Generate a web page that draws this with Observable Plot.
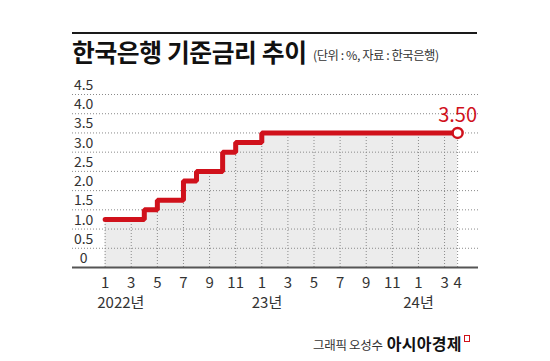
<!DOCTYPE html>
<html>
<head>
<meta charset="utf-8">
<script src="https://cdn.jsdelivr.net/npm/d3@7"></script>
<script src="https://cdn.jsdelivr.net/npm/@observablehq/plot@0.6"></script>
<style>
  html, body { margin: 0; padding: 0; background: #fff; }
  body { width: 550px; height: 361px; position: relative; overflow: hidden; font-family: "Noto Sans CJK KR", "Noto Sans", sans-serif; }
  #topline { position: absolute; left: 72px; top: 32px; width: 405px; height: 2px; background: #1a1a1a; }
  #title { position: absolute; left: 72px; top: 38px; font-size: 24.8px; font-weight: 700; color: #111; line-height: 26px; letter-spacing: -0.4px; white-space: nowrap; }
  #subtitle { position: absolute; left: 313px; top: 47px; font-size: 12.3px; color: #333; line-height: 16px; letter-spacing: -0.45px; white-space: nowrap; }
  #chart { position: absolute; left: 0; top: 75px; }
  #footer { position: absolute; left: 313px; top: 334px; line-height: 18px; white-space: nowrap; color: #333; }
  #footer .by { font-size: 12.5px; letter-spacing: -0.3px; }
  #footer .brand { font-size: 16px; font-weight: 700; color: #111; margin-left: 4px; letter-spacing: 0.3px; }
  #footer .icon { display: inline-block; width: 4px; height: 5px; border: 1.5px solid #d0111b; margin-left: 2px; position: relative; top: -8px; }
</style>
</head>
<body>
<div id="topline"></div>
<div id="title">한국은행 기준금리 추이</div>
<div id="subtitle">(단위 : %, 자료 : 한국은행)</div>
<div id="chart"></div>
<div id="footer"><span class="by">그래픽 오성수</span><span class="brand">아시아경제</span><span class="icon"></span></div>
<script>
// Base rate changes (month of change, rate %)
const changeMonths = ["2022-01", "2022-04", "2022-05", "2022-07", "2022-08", "2022-10", "2022-11", "2023-01", "2024-04"];
const changeRates  = [1.25, 1.50, 1.75, 2.25, 2.50, 3.00, 3.25, 3.50, 3.50];

// X tick months and labels
const tickMonths = ["2022-01","2022-03","2022-05","2022-07","2022-09","2022-11","2023-01","2023-03","2023-05","2023-07","2023-09","2023-11","2024-01","2024-03","2024-04"];
const tickLabels = ["1","3","5","7","9","11","1","3","5","7","9","11","1","3","4"];

// Year labels
const yearMonths = ["2022-01", "2023-01", "2024-01"];
const yearLabels = ["2022년", "23년", "24년"];

// Y ticks
const yTicks = [0, 0.5, 1.0, 1.5, 2.0, 2.5, 3.0, 3.5, 4.0, 4.5];
const yTickLabels = ["0", "0.5", "1.0", "1.5", "2.0", "2.5", "3.0", "3.5", "4.0", "4.5"];

const endLabel = "3.50";

const RED = "#d0111b";
const mi = s => { const [y, m] = s.split("-").map(Number); return (y - 2022) * 12 + (m - 1); };

const series = changeMonths.map((m, i) => ({t: mi(m), rate: changeRates[i]}));
const rateAt = t => { let r = series[0].rate; for (const d of series) if (d.t <= t) r = d.rate; return r; };
const ticks = tickMonths.map((m, i) => ({t: mi(m), label: tickLabels[i], rate: rateAt(mi(m))}));
const yearOffset = {"2022년": 1.2, "23년": 0.4, "24년": 0};
const years = yearMonths.map((m, i) => ({t: mi(m) + yearOffset[yearLabels[i]], label: yearLabels[i]}));
const yt = yTicks.map((v, i) => ({v, label: yTickLabels[i]}));
const last = series[series.length - 1];

const plot = Plot.plot({
  width: 550,
  height: 240,
  marginLeft: 72,
  marginRight: 72,
  marginTop: 19,
  marginBottom: 48,
  x: {domain: [-2.5, 28.6], axis: null},
  y: {domain: [0, 4.5], axis: null},
  style: {fontFamily: '"Noto Sans CJK KR", "Noto Sans", sans-serif', overflow: "visible", background: "transparent"},
  marks: [
    Plot.areaY(series, {x: "t", y: "rate", curve: "step-after", fill: "#ececec"}),
    Plot.ruleX(ticks, {x: "t", y1: 0, y2: "rate", stroke: "#8a8a8a", strokeWidth: 1, strokeDasharray: "1,2"}),
    Plot.ruleY(yTicks.filter(v => v > 0), {stroke: "#8a8a8a", strokeWidth: 1, strokeDasharray: "1,2"}),
    Plot.ruleY([0], {stroke: "#555", strokeWidth: 2}),
    Plot.text(yt, {x: () => -1.65, y: "v", text: "label", dy: -9, fontSize: 14, fill: "#333", textAnchor: "middle"}),
    Plot.line(series, {x: "t", y: "rate", curve: "step-after", stroke: RED, strokeWidth: 5, strokeLinejoin: "miter"}),
    Plot.dot([last], {x: "t", y: "rate", r: 5, fill: "white", stroke: RED, strokeWidth: 2.5}),
    Plot.text([last], {x: "t", y: "rate", text: () => endLabel, dy: -17, fontSize: 20, fill: RED, textAnchor: "middle"}),
    Plot.text(ticks, {x: "t", y: () => 0, text: "label", dy: 16, fontSize: 15, fill: "#333", textAnchor: "middle"}),
    Plot.text(years, {x: "t", y: () => 0, text: "label", dy: 36, fontSize: 15, fill: "#333", textAnchor: "middle"})
  ]
});
document.getElementById("chart").appendChild(plot);
</script>
</body>
</html>
